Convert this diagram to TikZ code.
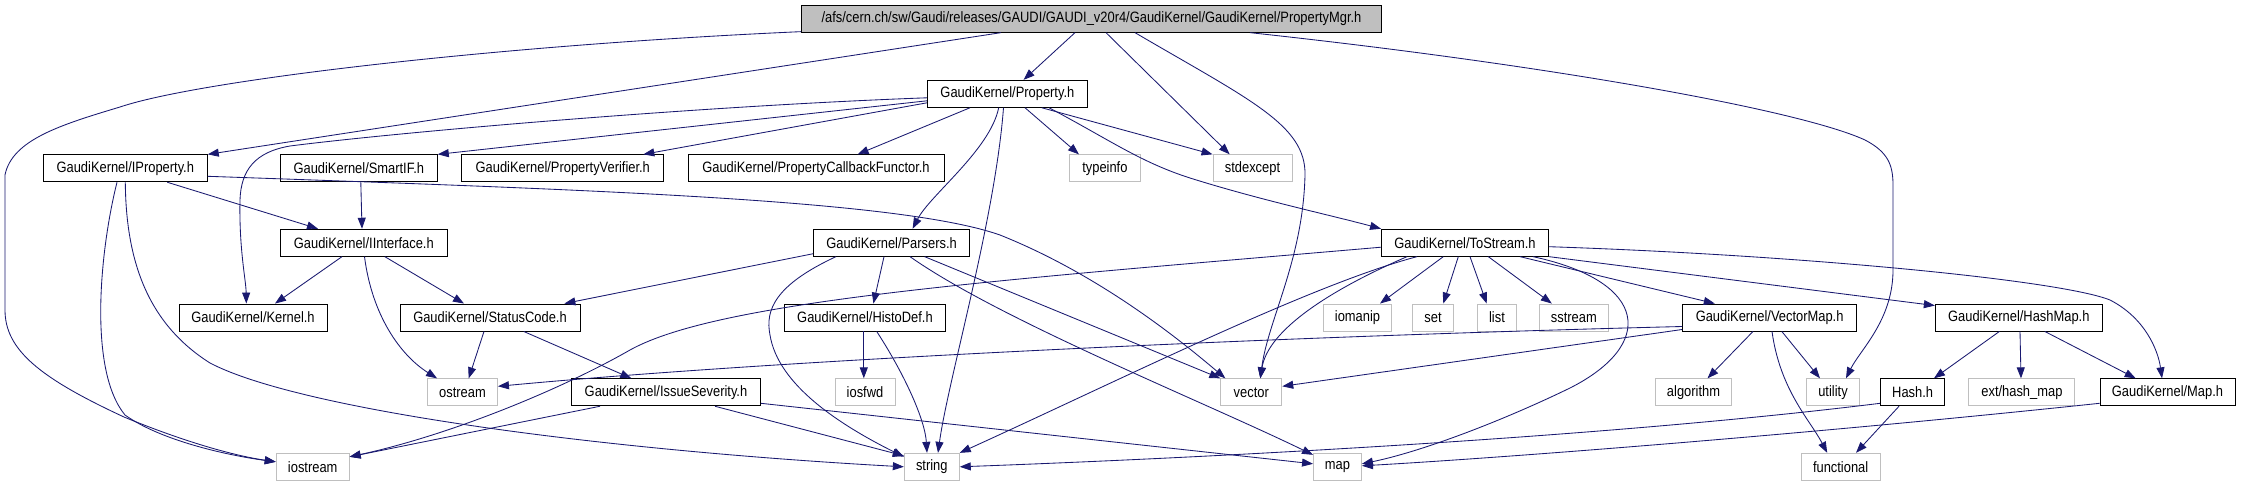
\documentclass[tikz,border=0pt]{standalone}
\usepackage{fontspec}
\setmainfont{Liberation Sans}[FakeStretch=0.86]
\usetikzlibrary{arrows.meta}
\definecolor{navy}{HTML}{191970}
\definecolor{graybord}{HTML}{BFBFBF}
\definecolor{rootfill}{HTML}{BFBFBF}
\tikzset{
  hdr/.style={draw=black, fill=white, line width=0.9pt, minimum height=27pt, inner sep=0pt, font=\fontsize{15}{17}\selectfont},
  sys/.style={hdr, draw=graybord},
  rootbox/.style={hdr, fill=rootfill},
  edge/.style={draw=navy, line width=0.85pt, -{Triangle[length=11pt,width=8pt]}},
}
\begin{document}
\begin{tikzpicture}[x=1pt,y=-1pt]
\useasboundingbox[fill=white] (0,0) rectangle (2241,485);
% row 1
\node[rootbox, minimum width=580pt] (root) at (1091.5,18.7) {/afs/cern.ch/sw/Gaudi/releases/GAUDI/GAUDI\_v20r4/GaudiKernel/GaudiKernel/PropertyMgr.h};
% row 2
\node[hdr, minimum width=160pt] (prop) at (1007.4,93.8) {GaudiKernel/Property.h};
% row 3
\node[hdr, minimum width=164pt] (iprop) at (125.3,168.3) {GaudiKernel/IProperty.h};
\node[hdr, minimum width=157pt] (smartif) at (358.8,168.3) {GaudiKernel/SmartIF.h};
\node[hdr, minimum width=202pt] (verif) at (562.8,168.3) {GaudiKernel/PropertyVerifier.h};
\node[hdr, minimum width=256pt] (pcf) at (816,168.3) {GaudiKernel/PropertyCallbackFunctor.h};
\node[sys, minimum width=71pt] (typeinfo) at (1104.9,168.3) {typeinfo};
\node[sys, minimum width=79pt] (stdexcept) at (1252.5,168.3) {stdexcept};
% row 4
\node[hdr, minimum width=167pt] (iint) at (363.8,242.7) {GaudiKernel/IInterface.h};
\node[hdr, minimum width=156pt] (parsers) at (891.6,242.7) {GaudiKernel/Parsers.h};
\node[hdr, minimum width=167pt] (tostream) at (1465,242.7) {GaudiKernel/ToStream.h};
% row 5
\node[hdr, minimum width=148pt] (kernel) at (253,317.5) {GaudiKernel/Kernel.h};
\node[hdr, minimum width=180pt] (status) at (490,317.5) {GaudiKernel/StatusCode.h};
\node[hdr, minimum width=161pt] (histo) at (865,317.5) {GaudiKernel/HistoDef.h};
\node[sys, minimum width=68pt] (iomanip) at (1357.5,317.5) {iomanip};
\node[sys, minimum width=41pt] (set) at (1433,317.5) {set};
\node[sys, minimum width=39pt] (list) at (1497,317.5) {list};
\node[sys, minimum width=69pt] (sstream) at (1573.8,317.5) {sstream};
\node[hdr, minimum width=174pt] (vmap) at (1769.6,317.5) {GaudiKernel/VectorMap.h};
\node[hdr, minimum width=167pt] (hmap) at (2018.8,317.5) {GaudiKernel/HashMap.h};
% row 6
\node[sys, minimum width=70pt] (ostream) at (462.5,392.3) {ostream};
\node[hdr, minimum width=189pt] (issue) at (666,392.3) {GaudiKernel/IssueSeverity.h};
\node[sys, minimum width=60pt] (iosfwd) at (865,392.3) {iosfwd};
\node[sys, minimum width=61pt] (vector) at (1251.3,392.3) {vector};
\node[sys, minimum width=76pt] (algorithm) at (1693.5,392.3) {algorithm};
\node[sys, minimum width=53pt] (utility) at (1833,392.3) {utility};
\node[hdr, minimum width=64pt] (hash) at (1912.6,392.3) {Hash.h};
\node[sys, minimum width=106pt] (exthash) at (2021.9,392.3) {ext/hash\_map};
\node[hdr, minimum width=135pt] (mapk) at (2167.5,392.3) {GaudiKernel/Map.h};
% row 7
\node[sys, minimum width=73pt] (iostream) at (312.7,466.8) {iostream};
\node[sys, minimum width=55pt] (string) at (931.8,466.8) {string};
\node[sys, minimum width=48pt] (map) at (1337.5,466.8) {map};
\node[sys, minimum width=79pt] (functional) at (1840.6,466.8) {functional};

% edges from root
\draw[edge] ([yshift=1]root.south west) .. controls (500,45) and (200,80) .. (120,107) .. controls (60,125) and (12,140) .. (5,175) -- (5,310) .. controls (5,350) and (40,378) .. (124,417) .. controls (180,440) and (230,455) .. ([yshift=5]iostream.west);
\draw[edge] ([xshift=-90.5]root.south) -- (iprop.north east);
\draw[edge] ([xshift=-16.5]root.south) -- ([xshift=16.2]prop.north);
\draw[edge] ([xshift=14.5]root.south) -- ([xshift=-22.8]stdexcept.north);
\draw[edge] ([xshift=43.5]root.south) .. controls (1250,100) and (1306,125) .. (1305,175) .. controls (1303,260) and (1268,320) .. ([xshift=9]vector.north);
\draw[edge] ([xshift=158.5]root.south) .. controls (1550,65) and (1800,110) .. (1865,140) .. controls (1888,152) and (1893,165) .. (1893,185) -- (1893,270) .. controls (1893,320) and (1860,350) .. ([xshift=13]utility.north);

% edges from Property.h
\draw[edge] ([yshift=-7]prop.west) -- (smartif.north east);
\draw[edge] ([yshift=-9]prop.west) -- ([xshift=80.5]verif.north);
\draw[edge] ([yshift=-4]prop.west) .. controls (700,106) and (400,132) .. (290,146) .. controls (255,152) and (241,170) .. (240,200) .. controls (239,250) and (246,280) .. ([xshift=-6.7]kernel.north);
\draw[edge] ([xshift=-37.4]prop.south) -- ([xshift=41.6]pcf.north);
\draw[edge] ([xshift=-8.7]prop.south) .. controls (990,150) and (930,195) .. ([xshift=21]parsers.north);
\draw[edge] ([xshift=-3.9]prop.south) .. controls (995,220) and (948,380) .. ([xshift=6.2]string.north);
\draw[edge] ([xshift=17.6]prop.south) -- ([xshift=10]typeinfo.north west);
\draw[edge] ([xshift=34.4]prop.south) -- (stdexcept.north west);
\draw[edge] ([xshift=41.6]prop.south) .. controls (1110,140) and (1140,162) .. (1190,178) .. controls (1260,200) and (1330,215) .. (tostream.north west);

% IProperty
\draw[edge] ([xshift=42]iprop.south) -- ([xshift=-45.8]iint.north);
\draw[edge] ([xshift=-8.3]iprop.south) .. controls (100,250) and (88,370) .. (125,415) .. controls (160,440) and (225,455) .. ([yshift=5]iostream.west);
\draw[edge] (iprop.south) .. controls (126,265) and (150,325) .. (210,363) .. controls (300,410) and (600,450) .. (string.west);
\draw[edge] ([yshift=-8]iprop.east) .. controls (600,190) and (900,200) .. (1000,235) .. controls (1100,275) and (1180,340) .. ([xshift=5]vector.north west);

% SmartIF
\draw[edge] ([xshift=2]smartif.south) -- ([xshift=-1.8]iint.north);

% IInterface
\draw[edge] ([xshift=-21.8]iint.south) -- ([xshift=22]kernel.north);
\draw[edge] ([xshift=0.7]iint.south) .. controls (372,315) and (400,355) .. ([xshift=10]ostream.north west);
\draw[edge] ([xshift=21]iint.south) -- ([xshift=-26]status.north);

% StatusCode
\draw[edge] ([xshift=-6]status.south) -- ([xshift=6.2]ostream.north);
\draw[edge] ([xshift=33.7]status.south) -- ([xshift=-34.6]issue.north);

% IssueSeverity
\draw[edge] ([xshift=-66]issue.south) -- ([yshift=10]iostream.east);
\draw[edge] ([xshift=49]issue.south) -- ([yshift=11]string.west);
\draw[edge] ([yshift=-11]issue.east) -- ([yshift=3]map.west);

% Parsers
\draw[edge] ([yshift=-11]parsers.west) -- ([xshift=74.4]status.north);
\draw[edge] ([xshift=-55.6]parsers.south) .. controls (775,285) and (765,310) .. (770,335) .. controls (778,385) and (840,425) .. ([yshift=10]string.west);
\draw[edge] ([xshift=-7.6]parsers.south) -- ([xshift=8.4]histo.north);
\draw[edge] ([xshift=33]parsers.south) -- (vector.north west);
\draw[edge] ([xshift=18.4]parsers.south) .. controls (1000,320) and (1200,400) .. ([yshift=-2]map.north west);

% HistoDef
\draw[edge] ([xshift=-1.2]histo.south) -- ([xshift=-1.2]iosfwd.north);
\draw[edge] ([xshift=11.7]histo.south) .. controls (905,375) and (925,420) .. ([xshift=-4.8]string.north);

% ToStream
\draw[edge] ([yshift=-4.5]tostream.west) .. controls (1000,280) and (720,300) .. (630,350) .. controls (560,390) and (450,435) .. ([yshift=10]iostream.east);
\draw[edge] ([xshift=-48]tostream.south) .. controls (1310,285) and (1120,380) .. (string.north east);
\draw[edge] ([xshift=-58]tostream.south) .. controls (1330,290) and (1268,330) .. ([xshift=9]vector.north);
\draw[edge] ([xshift=-21.7]tostream.south) -- ([xshift=22.5]iomanip.north);
\draw[edge] ([xshift=-6.7]tostream.south) -- ([xshift=10.3]set.north);
\draw[edge] ([xshift=5]tostream.south) -- ([xshift=-10.3]list.north);
\draw[edge] ([xshift=23.3]tostream.south) -- ([xshift=-22]sstream.north);
\draw[edge] ([xshift=68]tostream.south) .. controls (1650,282) and (1655,345) .. (1570,388) .. controls (1500,422) and (1420,452) .. ([yshift=3]map.east);
\draw[edge] ([xshift=55]tostream.south) -- ([xshift=-54.8]vmap.north);
\draw[edge] (tostream.south east) -- ([yshift=-2]hmap.north west);
\draw[edge] ([yshift=-4]tostream.east) .. controls (1800,255) and (2060,280) .. (2110,300) .. controls (2145,318) and (2158,350) .. ([xshift=-5.5]mapk.north);

% VectorMap
\draw[edge] ([yshift=-9]vmap.west) .. controls (1300,336) and (800,358) .. ([yshift=6]ostream.east);
\draw[edge] ([yshift=-12]vmap.west) -- ([yshift=6]vector.east);
\draw[edge] ([xshift=-16.6]vmap.south) -- ([xshift=14]algorithm.north);
\draw[edge] ([xshift=12.2]vmap.south) -- ([xshift=-13]utility.north);
\draw[edge] ([xshift=2.4]vmap.south) .. controls (1780,390) and (1810,420) .. ([xshift=-13.4]functional.north);

% HashMap
\draw[edge] ([xshift=-19.4]hmap.south) -- ([xshift=21.3]hash.north);
\draw[edge] ([xshift=1.2]hmap.south) -- ([xshift=-0.9]exthash.north);
\draw[edge] ([xshift=26]hmap.south) -- ([xshift=-31.8]mapk.north);

% Hash.h
\draw[edge] ([yshift=-11]hash.west) .. controls (1600,438) and (1200,458) .. (string.east);
\draw[edge] ([xshift=-13.6]hash.south) -- ([xshift=15.4]functional.north);

% Map.h
\draw[edge] ([yshift=-11]mapk.west) .. controls (1800,435) and (1500,458) .. ([yshift=1]map.east);
\end{tikzpicture}
\end{document}
